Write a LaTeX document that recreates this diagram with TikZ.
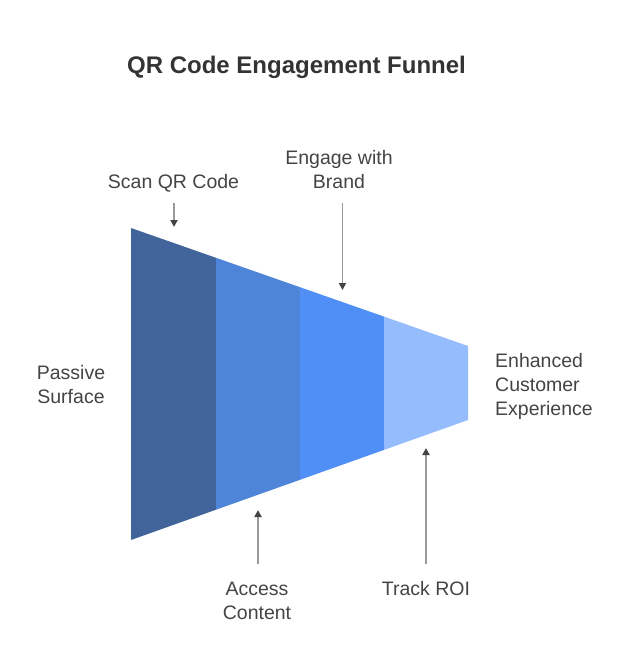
\documentclass[tikz,border=0pt]{standalone}
\usepackage{fontspec}
\setmainfont{Liberation Sans}
\usetikzlibrary{arrows.meta}
\definecolor{segA}{HTML}{41649A}
\definecolor{segB}{HTML}{4F85D9}
\definecolor{segC}{HTML}{4F8FF6}
\definecolor{segD}{HTML}{95BCFD}
\definecolor{txt}{HTML}{444444}
\definecolor{ttl}{HTML}{333333}
\definecolor{arr}{HTML}{999999}
\definecolor{arrhead}{HTML}{444444}
\begin{document}
\begin{tikzpicture}[x=1pt,y=-1pt,
  lbl/.style={font=\fontsize{19.5}{24}\selectfont, text=txt, inner sep=0pt, anchor=base, align=center},
  lblleft/.style={lbl, align=left, anchor=base west},
  ptr/.style={draw=arr, line width=1.8pt, -{Triangle[length=7pt,width=7pt,color=arrhead]}}]
\useasboundingbox (0,0) rectangle (624,672);
% funnel segments
\fill[segA] (131,228) -- (216,257.8) -- (216,509.7) -- (131,540) -- cycle;
\fill[segB] (216,257.8) -- (300,287.2) -- (300,479.8) -- (216,509.7) -- cycle;
\fill[segC] (300,287.2) -- (384,316.6) -- (384,449.9) -- (300,479.8) -- cycle;
\fill[segD] (384,316.6) -- (468,346) -- (468,420) -- (384,449.9) -- cycle;
% title
\node[font=\fontsize{24}{28}\selectfont\bfseries, text=ttl, inner sep=0pt, anchor=base] (title) at (296.5,73) {QR Code Engagement Funnel};
% labels (base anchor = baseline of last line)
\node[lbl] (scan) at (173.5,188) {Scan QR Code};
\node[lbl] (engage) at (339,188) {Engage with\\Brand};
\node[lbl] (passive) at (71,403) {Passive\\Surface};
\node[lblleft] (enh) at (495,415) {Enhanced\\Customer\\Experience};
\node[lbl] (access) at (257,619) {Access\\Content};
\node[lbl] (track) at (426,595) {Track ROI};
% arrow ends
\coordinate (scanA) at (174,203); \coordinate (scanB) at (174,227);
\coordinate (engA) at (342.5,203); \coordinate (engB) at (342.5,290);
\coordinate (accA) at (258,564); \coordinate (accB) at (258,510);
\coordinate (trkA) at (426,564); \coordinate (trkB) at (426,448);
\draw[ptr] (scanA) -- (scanB);
\draw[ptr] (engA) -- (engB);
\draw[ptr] (accA) -- (accB);
\draw[ptr] (trkA) -- (trkB);
\end{tikzpicture}
\end{document}
